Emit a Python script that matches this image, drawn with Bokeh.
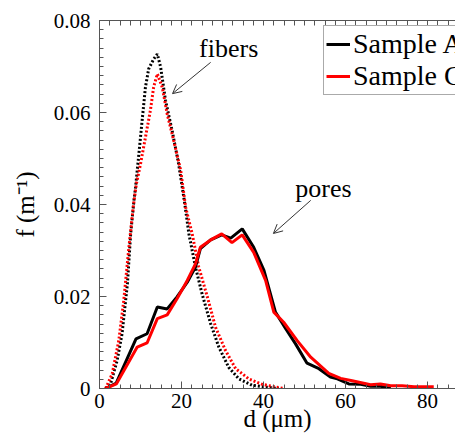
import numpy as np
from bokeh.plotting import figure
from bokeh.models import (FixedTicker, LinearAxis, Label, Arrow, OpenHead,
                          Legend, LegendItem, Range1d)
from bokeh.embed import file_html
from bokeh.resources import INLINE

# ---- data ----
fib_a_x = [1.5, 2.7, 4.3, 5.5, 6.8, 7.6, 8.4, 8.8, 9.6, 10.4, 11.2, 12.0, 13.2, 14.1,
           14.9, 16.1, 17.7, 19.3, 20.8, 21.8, 23.4, 25.0, 27.1, 29.1, 31.5, 34.0,
           37.2, 40.5, 43.7]
fib_a_y = [0.0, 0.0010, 0.0061, 0.0119, 0.0227, 0.0336, 0.0409, 0.0438, 0.0510, 0.0583,
           0.0655, 0.0695, 0.0716, 0.0727, 0.0699, 0.0626, 0.0561, 0.0488, 0.0401,
           0.0336, 0.0264, 0.0206, 0.0141, 0.0090, 0.0046, 0.0021, 0.0007, 0.0003, 0.0]

fib_c_x = [1.5, 3.1, 4.7, 5.9, 7.1, 8.3, 9.0, 10.0, 11.2, 12.4, 13.2, 14.1, 15.3, 16.5,
           18.1, 19.8, 21.0, 22.6, 24.2, 26.3, 28.3, 30.7, 33.2, 36.4, 39.7, 44.9]
fib_c_y = [0.0, 0.0032, 0.0104, 0.0190, 0.0301, 0.0400, 0.0445, 0.0488, 0.0546, 0.0604,
           0.0655, 0.0684, 0.0655, 0.0597, 0.0539, 0.0474, 0.0394, 0.0336, 0.0264,
           0.0199, 0.0133, 0.0083, 0.0043, 0.0021, 0.0009, 0.0]

por_a_x = [1.5, 4.1, 8.9, 11.6, 14.1, 16.5, 18.9, 21.4, 23.4, 24.6, 27.1, 29.8, 32.0,
           34.8, 37.6, 40.1, 42.9, 45.4, 47.8, 50.6, 53.5, 56.3, 58.0, 60.8, 63.7,
           66.1, 68.5, 71.0]
por_a_y = [0.0, 0.0012, 0.0108, 0.0119, 0.0177, 0.0173, 0.0199, 0.0231, 0.0264, 0.0304,
           0.0323, 0.0334, 0.0327, 0.0347, 0.0307, 0.0257, 0.0166, 0.0130, 0.0097,
           0.0055, 0.0043, 0.0025, 0.0021, 0.0010, 0.0009, 0.0005, 0.0005, 0.0]

por_c_x = [1.5, 4.1, 9.2, 11.6, 14.1, 16.5, 18.9, 21.4, 23.4, 24.6, 27.1, 29.8, 32.3,
           34.8, 37.6, 40.5, 42.5, 44.9, 48.2, 51.5, 55.9, 58.8, 61.6, 66.1, 68.5,
           71.0, 73.8, 76.7, 81.5]
por_c_y = [0.0, 0.0010, 0.0090, 0.0099, 0.0152, 0.0160, 0.0195, 0.0235, 0.0271, 0.0307,
           0.0323, 0.0336, 0.0317, 0.0334, 0.0296, 0.0235, 0.0166, 0.0144, 0.0104,
           0.0068, 0.0033, 0.0022, 0.0017, 0.0008, 0.0010, 0.0006, 0.0006, 0.0004,
           0.0004]

x_ticks = [0, 20, 40, 60, 80]
x_tick_labels = ["0", "20", "40", "60", "80"]
y_ticks = [0, 0.02, 0.04, 0.06, 0.08]
y_tick_labels = ["0", "0.02", "0.04", "0.06", "0.08"]
series_labels = ["Sample A", "Sample C"]
x_title = "d (μm)"
y_title = "f (m⁻¹)"

FONT = "Liberation Serif"
AX = "#555555"

p = figure(width=455, height=440, output_backend="svg", toolbar_location=None,
           x_range=Range1d(0, 86.8), y_range=Range1d(0, 0.08),
           min_border_left=99, min_border_right=0, min_border_top=20,
           min_border_bottom=52, x_axis_location=None, y_axis_location=None)
p.outline_line_color = None
p.grid.visible = False
p.background_fill_color = "white"
p.border_fill_color = "white"

x_minor = list(np.arange(0, 87.6, 2.5))
y_minor = list(np.round(np.arange(0, 0.0801, 0.002), 4))


def style(ax):
    ax.axis_line_color = AX
    ax.axis_line_width = 1
    ax.major_tick_line_color = AX
    ax.minor_tick_line_color = AX
    ax.major_tick_in = 7
    ax.major_tick_out = 0
    ax.minor_tick_in = 4
    ax.minor_tick_out = 0
    ax.major_label_text_font = FONT
    ax.major_label_text_font_size = "21px"
    ax.major_label_text_color = "black"
    ax.axis_label_text_font = FONT
    ax.axis_label_text_font_size = "25px"
    ax.axis_label_text_font_style = "normal"
    ax.axis_label_text_color = "black"


xb = LinearAxis(ticker=FixedTicker(ticks=x_ticks, minor_ticks=x_minor),
                major_label_overrides=dict(zip(x_ticks, x_tick_labels)),
                axis_label=x_title)
style(xb)
xb.major_label_standoff = 5
xb.axis_label_standoff = -6
p.add_layout(xb, "below")

# top frame edge: ticks only, no labels
xt = LinearAxis(ticker=FixedTicker(ticks=[], minor_ticks=x_minor))
style(xt)
xt.minor_tick_in = 5
p.add_layout(xt, "above")

yl = LinearAxis(ticker=FixedTicker(ticks=y_ticks, minor_ticks=y_minor),
                major_label_overrides=dict(zip(y_ticks, y_tick_labels)),
                axis_label=y_title)
style(yl)
yl.major_label_standoff = 9
yl.axis_label_standoff = 12
p.add_layout(yl, "left")

# dotted fiber curves
p.line(fib_a_x, fib_a_y, line_color="black", line_width=3, line_dash="2 2")
p.line(fib_c_x, fib_c_y, line_color="red", line_width=3, line_dash="2 2")
# solid pore curves
ra = p.line(por_a_x, por_a_y, line_color="black", line_width=3)
rc = p.line(por_c_x, por_c_y, line_color="red", line_width=3)

legend = Legend(items=[LegendItem(label=series_labels[0], renderers=[ra]),
                       LegendItem(label=series_labels[1], renderers=[rc])],
                location=(224, 293), label_text_font=FONT, label_text_font_size="28px",
                label_text_baseline="middle", label_text_color="black",
                glyph_width=24, glyph_height=28, label_standoff=3, padding=2,
                spacing=0, margin=0, border_line_color=AX, border_line_width=1,
                background_fill_color="white", background_fill_alpha=1.0)
p.add_layout(legend)

# annotations
p.add_layout(Label(x=31.5, y=0.0739, text="fibers", text_align="center",
                   text_baseline="middle", text_font=FONT,
                   text_font_size="26px", text_color="black"))
p.add_layout(Label(x=54.6, y=0.0435, text="pores", text_align="center",
                   text_baseline="middle", text_font=FONT,
                   text_font_size="26px", text_color="black"))
p.add_layout(Arrow(end=OpenHead(size=9, line_width=1, line_color="#333333"),
                   x_start=27.1, y_start=0.0709, x_end=17.8, y_end=0.0641,
                   line_color="#333333", line_width=1))
p.add_layout(Arrow(end=OpenHead(size=9, line_width=1, line_color="#333333"),
                   x_start=51.5, y_start=0.0409, x_end=42.4, y_end=0.0337,
                   line_color="#333333", line_width=1))

open("out.html", "w").write(file_html(p, INLINE))
